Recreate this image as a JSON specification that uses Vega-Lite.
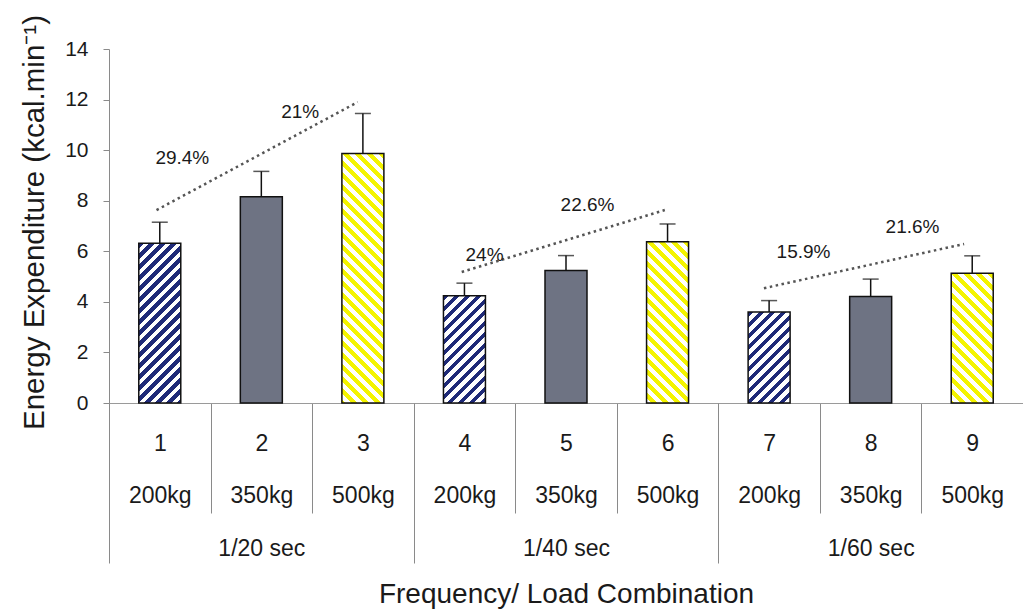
{
  "$schema": "https://vega.github.io/schema/vega-lite/v6.json",
  "width": 914,
  "height": 354,
  "autosize": "none",
  "padding": {"left": 109, "top": 49, "right": 0, "bottom": 206},
  "background": "#ffffff",
  "config": {
    "view": {"stroke": null},
    "font": "Liberation Sans",
    "axis": {"labelColor": "#1a1a1a", "titleColor": "#1a1a1a", "titleFontWeight": "normal", "labelFont": "Liberation Sans", "titleFont": "Liberation Sans"},
    "axisY": {
      "values": [0, 2, 4, 6, 8, 10, 12, 14], "grid": false,
      "tickSize": 6, "tickColor": "#8a8a8a", "domainColor": "#8a8a8a",
      "labelFontSize": 21, "labelPadding": 15,
      "titleFontSize": 29.5, "titleX": -66, "titleY": 173, "titleBaseline": "alphabetic"
    }
  },
  "datasets": {
    "bars": [
      {"case": "1 200kg", "n": 1, "load": "200kg", "freq": "1/20 sec", "ee": 6.32, "upper": 7.15},
      {"case": "2 350kg", "n": 2, "load": "350kg", "freq": "1/20 sec", "ee": 8.16, "upper": 9.16},
      {"case": "3 500kg", "n": 3, "load": "500kg", "freq": "1/20 sec", "ee": 9.87, "upper": 11.45},
      {"case": "4 200kg", "n": 4, "load": "200kg", "freq": "1/40 sec", "ee": 4.24, "upper": 4.74},
      {"case": "5 350kg", "n": 5, "load": "350kg", "freq": "1/40 sec", "ee": 5.24, "upper": 5.83},
      {"case": "6 500kg", "n": 6, "load": "500kg", "freq": "1/40 sec", "ee": 6.38, "upper": 7.08},
      {"case": "7 200kg", "n": 7, "load": "200kg", "freq": "1/60 sec", "ee": 3.60, "upper": 4.05},
      {"case": "8 350kg", "n": 8, "load": "350kg", "freq": "1/60 sec", "ee": 4.21, "upper": 4.90},
      {"case": "9 500kg", "n": 9, "load": "500kg", "freq": "1/60 sec", "ee": 5.13, "upper": 5.82}
    ],
    "trend": [
      {"grp": "1/20 sec", "pos": 0.468, "y": 7.63},
      {"grp": "1/20 sec", "pos": 2.449, "y": 11.9},
      {"grp": "1/40 sec", "pos": 3.473, "y": 5.18},
      {"grp": "1/40 sec", "pos": 5.473, "y": 7.63},
      {"grp": "1/60 sec", "pos": 6.449, "y": 4.54},
      {"grp": "1/60 sec", "pos": 8.420, "y": 6.29}
    ],
    "pct": [
      {"pos": 0.722, "y": 9.69, "label": "29.4%"},
      {"pos": 1.883, "y": 11.5, "label": "21%"},
      {"pos": 3.698, "y": 5.86, "label": "24%"},
      {"pos": 4.712, "y": 7.83, "label": "22.6%"},
      {"pos": 6.839, "y": 5.99, "label": "15.9%"},
      {"pos": 7.912, "y": 6.97, "label": "21.6%"}
    ]
  },
  "resolve": {"scale": {"x": "independent"}},
  "layer": [
    {
      "data": {"name": "bars"},
      "encoding": {
        "x": {
          "field": "case", "type": "nominal", "sort": null,
          "scale": {"type": "band", "paddingInner": 0, "paddingOuter": 0},
          "axis": {
            "orient": "bottom", "title": null, "labelAngle": 0,
            "labelExpr": "split(datum.label, ' ')",
            "labelFontSize": 23, "labelLineHeight": 52, "labelPadding": -81,
            "tickBand": "extent", "tickSize": 110, "tickColor": "#8a8a8a", "tickWidth": 1,
            "domainColor": "#9a9a9a", "domainWidth": 1
          }
        }
      },
      "layer": [
        {
          "mark": {"type": "bar", "stroke": "#111111", "strokeWidth": 1.5, "width": {"band": 0.4135}},
          "encoding": {
            "y": {
              "field": "ee", "type": "quantitative",
              "scale": {"domain": [0, 14], "nice": false},
              "title": "Energy Expenditure (kcal.min⁻¹)"
            },
            "fill": {
              "condition": [
                {"test": "datum.n === 1", "value": {"gradient": "linear", "x1": 0, "y1": 0, "x2": 0.3385, "y2": 1.2878, "stops": [
                  {"offset": 0, "color": "#1f2a78"}, {"offset": 0.025, "color": "#1f2a78"}, {"offset": 0.025, "color": "#fff"}, {"offset": 0.05, "color": "#fff"},
                  {"offset": 0.05, "color": "#1f2a78"}, {"offset": 0.075, "color": "#1f2a78"}, {"offset": 0.075, "color": "#fff"}, {"offset": 0.1, "color": "#fff"},
                  {"offset": 0.1, "color": "#1f2a78"}, {"offset": 0.125, "color": "#1f2a78"}, {"offset": 0.125, "color": "#fff"}, {"offset": 0.15, "color": "#fff"},
                  {"offset": 0.15, "color": "#1f2a78"}, {"offset": 0.175, "color": "#1f2a78"}, {"offset": 0.175, "color": "#fff"}, {"offset": 0.2, "color": "#fff"},
                  {"offset": 0.2, "color": "#1f2a78"}, {"offset": 0.225, "color": "#1f2a78"}, {"offset": 0.225, "color": "#fff"}, {"offset": 0.25, "color": "#fff"},
                  {"offset": 0.25, "color": "#1f2a78"}, {"offset": 0.275, "color": "#1f2a78"}, {"offset": 0.275, "color": "#fff"}, {"offset": 0.3, "color": "#fff"},
                  {"offset": 0.3, "color": "#1f2a78"}, {"offset": 0.325, "color": "#1f2a78"}, {"offset": 0.325, "color": "#fff"}, {"offset": 0.35, "color": "#fff"},
                  {"offset": 0.35, "color": "#1f2a78"}, {"offset": 0.375, "color": "#1f2a78"}, {"offset": 0.375, "color": "#fff"}, {"offset": 0.4, "color": "#fff"},
                  {"offset": 0.4, "color": "#1f2a78"}, {"offset": 0.425, "color": "#1f2a78"}, {"offset": 0.425, "color": "#fff"}, {"offset": 0.45, "color": "#fff"},
                  {"offset": 0.45, "color": "#1f2a78"}, {"offset": 0.475, "color": "#1f2a78"}, {"offset": 0.475, "color": "#fff"}, {"offset": 0.5, "color": "#fff"},
                  {"offset": 0.5, "color": "#1f2a78"}, {"offset": 0.525, "color": "#1f2a78"}, {"offset": 0.525, "color": "#fff"}, {"offset": 0.55, "color": "#fff"},
                  {"offset": 0.55, "color": "#1f2a78"}, {"offset": 0.575, "color": "#1f2a78"}, {"offset": 0.575, "color": "#fff"}, {"offset": 0.6, "color": "#fff"},
                  {"offset": 0.6, "color": "#1f2a78"}, {"offset": 0.625, "color": "#1f2a78"}, {"offset": 0.625, "color": "#fff"}, {"offset": 0.65, "color": "#fff"},
                  {"offset": 0.65, "color": "#1f2a78"}, {"offset": 0.675, "color": "#1f2a78"}, {"offset": 0.675, "color": "#fff"}, {"offset": 0.7, "color": "#fff"},
                  {"offset": 0.7, "color": "#1f2a78"}, {"offset": 0.725, "color": "#1f2a78"}, {"offset": 0.725, "color": "#fff"}, {"offset": 0.75, "color": "#fff"},
                  {"offset": 0.75, "color": "#1f2a78"}, {"offset": 0.775, "color": "#1f2a78"}, {"offset": 0.775, "color": "#fff"}, {"offset": 0.8, "color": "#fff"},
                  {"offset": 0.8, "color": "#1f2a78"}, {"offset": 0.825, "color": "#1f2a78"}, {"offset": 0.825, "color": "#fff"}, {"offset": 0.85, "color": "#fff"},
                  {"offset": 0.85, "color": "#1f2a78"}, {"offset": 0.875, "color": "#1f2a78"}, {"offset": 0.875, "color": "#fff"}, {"offset": 0.9, "color": "#fff"},
                  {"offset": 0.9, "color": "#1f2a78"}, {"offset": 0.925, "color": "#1f2a78"}, {"offset": 0.925, "color": "#fff"}, {"offset": 0.95, "color": "#fff"},
                  {"offset": 0.95, "color": "#1f2a78"}, {"offset": 0.975, "color": "#1f2a78"}, {"offset": 0.975, "color": "#fff"}, {"offset": 1, "color": "#fff"}
                ]}},
                {"test": "datum.n === 4", "value": {"gradient": "linear", "x1": 0, "y1": 0, "x2": 0.6970, "y2": 1.7791, "stops": [
                  {"offset": 0, "color": "#1f2a78"}, {"offset": 0.025, "color": "#1f2a78"}, {"offset": 0.025, "color": "#fff"}, {"offset": 0.05, "color": "#fff"},
                  {"offset": 0.05, "color": "#1f2a78"}, {"offset": 0.075, "color": "#1f2a78"}, {"offset": 0.075, "color": "#fff"}, {"offset": 0.1, "color": "#fff"},
                  {"offset": 0.1, "color": "#1f2a78"}, {"offset": 0.125, "color": "#1f2a78"}, {"offset": 0.125, "color": "#fff"}, {"offset": 0.15, "color": "#fff"},
                  {"offset": 0.15, "color": "#1f2a78"}, {"offset": 0.175, "color": "#1f2a78"}, {"offset": 0.175, "color": "#fff"}, {"offset": 0.2, "color": "#fff"},
                  {"offset": 0.2, "color": "#1f2a78"}, {"offset": 0.225, "color": "#1f2a78"}, {"offset": 0.225, "color": "#fff"}, {"offset": 0.25, "color": "#fff"},
                  {"offset": 0.25, "color": "#1f2a78"}, {"offset": 0.275, "color": "#1f2a78"}, {"offset": 0.275, "color": "#fff"}, {"offset": 0.3, "color": "#fff"},
                  {"offset": 0.3, "color": "#1f2a78"}, {"offset": 0.325, "color": "#1f2a78"}, {"offset": 0.325, "color": "#fff"}, {"offset": 0.35, "color": "#fff"},
                  {"offset": 0.35, "color": "#1f2a78"}, {"offset": 0.375, "color": "#1f2a78"}, {"offset": 0.375, "color": "#fff"}, {"offset": 0.4, "color": "#fff"},
                  {"offset": 0.4, "color": "#1f2a78"}, {"offset": 0.425, "color": "#1f2a78"}, {"offset": 0.425, "color": "#fff"}, {"offset": 0.45, "color": "#fff"},
                  {"offset": 0.45, "color": "#1f2a78"}, {"offset": 0.475, "color": "#1f2a78"}, {"offset": 0.475, "color": "#fff"}, {"offset": 0.5, "color": "#fff"},
                  {"offset": 0.5, "color": "#1f2a78"}, {"offset": 0.525, "color": "#1f2a78"}, {"offset": 0.525, "color": "#fff"}, {"offset": 0.55, "color": "#fff"},
                  {"offset": 0.55, "color": "#1f2a78"}, {"offset": 0.575, "color": "#1f2a78"}, {"offset": 0.575, "color": "#fff"}, {"offset": 0.6, "color": "#fff"},
                  {"offset": 0.6, "color": "#1f2a78"}, {"offset": 0.625, "color": "#1f2a78"}, {"offset": 0.625, "color": "#fff"}, {"offset": 0.65, "color": "#fff"},
                  {"offset": 0.65, "color": "#1f2a78"}, {"offset": 0.675, "color": "#1f2a78"}, {"offset": 0.675, "color": "#fff"}, {"offset": 0.7, "color": "#fff"}
                ]}},
                {"test": "datum.n === 7", "value": {"gradient": "linear", "x1": 0, "y1": 0, "x2": 0.9194, "y2": 1.9927, "stops": [
                  {"offset": 0, "color": "#1f2a78"}, {"offset": 0.025, "color": "#1f2a78"}, {"offset": 0.025, "color": "#fff"}, {"offset": 0.05, "color": "#fff"},
                  {"offset": 0.05, "color": "#1f2a78"}, {"offset": 0.075, "color": "#1f2a78"}, {"offset": 0.075, "color": "#fff"}, {"offset": 0.1, "color": "#fff"},
                  {"offset": 0.1, "color": "#1f2a78"}, {"offset": 0.125, "color": "#1f2a78"}, {"offset": 0.125, "color": "#fff"}, {"offset": 0.15, "color": "#fff"},
                  {"offset": 0.15, "color": "#1f2a78"}, {"offset": 0.175, "color": "#1f2a78"}, {"offset": 0.175, "color": "#fff"}, {"offset": 0.2, "color": "#fff"},
                  {"offset": 0.2, "color": "#1f2a78"}, {"offset": 0.225, "color": "#1f2a78"}, {"offset": 0.225, "color": "#fff"}, {"offset": 0.25, "color": "#fff"},
                  {"offset": 0.25, "color": "#1f2a78"}, {"offset": 0.275, "color": "#1f2a78"}, {"offset": 0.275, "color": "#fff"}, {"offset": 0.3, "color": "#fff"},
                  {"offset": 0.3, "color": "#1f2a78"}, {"offset": 0.325, "color": "#1f2a78"}, {"offset": 0.325, "color": "#fff"}, {"offset": 0.35, "color": "#fff"},
                  {"offset": 0.35, "color": "#1f2a78"}, {"offset": 0.375, "color": "#1f2a78"}, {"offset": 0.375, "color": "#fff"}, {"offset": 0.4, "color": "#fff"},
                  {"offset": 0.4, "color": "#1f2a78"}, {"offset": 0.425, "color": "#1f2a78"}, {"offset": 0.425, "color": "#fff"}, {"offset": 0.45, "color": "#fff"},
                  {"offset": 0.45, "color": "#1f2a78"}, {"offset": 0.475, "color": "#1f2a78"}, {"offset": 0.475, "color": "#fff"}, {"offset": 0.5, "color": "#fff"},
                  {"offset": 0.5, "color": "#1f2a78"}, {"offset": 0.525, "color": "#1f2a78"}, {"offset": 0.525, "color": "#fff"}, {"offset": 0.55, "color": "#fff"},
                  {"offset": 0.55, "color": "#1f2a78"}, {"offset": 0.575, "color": "#1f2a78"}, {"offset": 0.575, "color": "#fff"}, {"offset": 0.6, "color": "#fff"},
                  {"offset": 0.6, "color": "#1f2a78"}, {"offset": 0.625, "color": "#1f2a78"}, {"offset": 0.625, "color": "#fff"}, {"offset": 0.65, "color": "#fff"}
                ]}},
                {"test": "datum.n === 3", "value": {"gradient": "linear", "x1": 1, "y1": 0, "x2": 0.80327, "y2": 1.16896, "stops": [
                  {"offset": 0, "color": "#f4f400"}, {"offset": 0.02, "color": "#f4f400"}, {"offset": 0.02, "color": "#fff"}, {"offset": 0.04, "color": "#fff"},
                  {"offset": 0.04, "color": "#f4f400"}, {"offset": 0.06, "color": "#f4f400"}, {"offset": 0.06, "color": "#fff"}, {"offset": 0.08, "color": "#fff"},
                  {"offset": 0.08, "color": "#f4f400"}, {"offset": 0.1, "color": "#f4f400"}, {"offset": 0.1, "color": "#fff"}, {"offset": 0.12, "color": "#fff"},
                  {"offset": 0.12, "color": "#f4f400"}, {"offset": 0.14, "color": "#f4f400"}, {"offset": 0.14, "color": "#fff"}, {"offset": 0.16, "color": "#fff"},
                  {"offset": 0.16, "color": "#f4f400"}, {"offset": 0.18, "color": "#f4f400"}, {"offset": 0.18, "color": "#fff"}, {"offset": 0.2, "color": "#fff"},
                  {"offset": 0.2, "color": "#f4f400"}, {"offset": 0.22, "color": "#f4f400"}, {"offset": 0.22, "color": "#fff"}, {"offset": 0.24, "color": "#fff"},
                  {"offset": 0.24, "color": "#f4f400"}, {"offset": 0.26, "color": "#f4f400"}, {"offset": 0.26, "color": "#fff"}, {"offset": 0.28, "color": "#fff"},
                  {"offset": 0.28, "color": "#f4f400"}, {"offset": 0.3, "color": "#f4f400"}, {"offset": 0.3, "color": "#fff"}, {"offset": 0.32, "color": "#fff"},
                  {"offset": 0.32, "color": "#f4f400"}, {"offset": 0.34, "color": "#f4f400"}, {"offset": 0.34, "color": "#fff"}, {"offset": 0.36, "color": "#fff"},
                  {"offset": 0.36, "color": "#f4f400"}, {"offset": 0.38, "color": "#f4f400"}, {"offset": 0.38, "color": "#fff"}, {"offset": 0.4, "color": "#fff"},
                  {"offset": 0.4, "color": "#f4f400"}, {"offset": 0.42, "color": "#f4f400"}, {"offset": 0.42, "color": "#fff"}, {"offset": 0.44, "color": "#fff"},
                  {"offset": 0.44, "color": "#f4f400"}, {"offset": 0.46, "color": "#f4f400"}, {"offset": 0.46, "color": "#fff"}, {"offset": 0.48, "color": "#fff"},
                  {"offset": 0.48, "color": "#f4f400"}, {"offset": 0.5, "color": "#f4f400"}, {"offset": 0.5, "color": "#fff"}, {"offset": 0.52, "color": "#fff"},
                  {"offset": 0.52, "color": "#f4f400"}, {"offset": 0.54, "color": "#f4f400"}, {"offset": 0.54, "color": "#fff"}, {"offset": 0.56, "color": "#fff"},
                  {"offset": 0.56, "color": "#f4f400"}, {"offset": 0.58, "color": "#f4f400"}, {"offset": 0.58, "color": "#fff"}, {"offset": 0.6, "color": "#fff"},
                  {"offset": 0.6, "color": "#f4f400"}, {"offset": 0.62, "color": "#f4f400"}, {"offset": 0.62, "color": "#fff"}, {"offset": 0.64, "color": "#fff"},
                  {"offset": 0.64, "color": "#f4f400"}, {"offset": 0.66, "color": "#f4f400"}, {"offset": 0.66, "color": "#fff"}, {"offset": 0.68, "color": "#fff"},
                  {"offset": 0.68, "color": "#f4f400"}, {"offset": 0.7, "color": "#f4f400"}, {"offset": 0.7, "color": "#fff"}, {"offset": 0.72, "color": "#fff"},
                  {"offset": 0.72, "color": "#f4f400"}, {"offset": 0.74, "color": "#f4f400"}, {"offset": 0.74, "color": "#fff"}, {"offset": 0.76, "color": "#fff"},
                  {"offset": 0.76, "color": "#f4f400"}, {"offset": 0.78, "color": "#f4f400"}, {"offset": 0.78, "color": "#fff"}, {"offset": 0.8, "color": "#fff"},
                  {"offset": 0.8, "color": "#f4f400"}, {"offset": 0.82, "color": "#f4f400"}, {"offset": 0.82, "color": "#fff"}, {"offset": 0.84, "color": "#fff"},
                  {"offset": 0.84, "color": "#f4f400"}, {"offset": 0.86, "color": "#f4f400"}, {"offset": 0.86, "color": "#fff"}, {"offset": 0.88, "color": "#fff"},
                  {"offset": 0.88, "color": "#f4f400"}, {"offset": 0.9, "color": "#f4f400"}, {"offset": 0.9, "color": "#fff"}, {"offset": 0.92, "color": "#fff"},
                  {"offset": 0.92, "color": "#f4f400"}, {"offset": 0.94, "color": "#f4f400"}, {"offset": 0.94, "color": "#fff"}, {"offset": 0.96, "color": "#fff"},
                  {"offset": 0.96, "color": "#f4f400"}, {"offset": 0.98, "color": "#f4f400"}, {"offset": 0.98, "color": "#fff"}, {"offset": 1, "color": "#fff"}
                ]}},
                {"test": "datum.n === 6", "value": {"gradient": "linear", "x1": 1, "y1": 0, "x2": 0.54657, "y2": 1.74161, "stops": [
                  {"offset": 0, "color": "#f4f400"}, {"offset": 0.02, "color": "#f4f400"}, {"offset": 0.02, "color": "#fff"}, {"offset": 0.04, "color": "#fff"},
                  {"offset": 0.04, "color": "#f4f400"}, {"offset": 0.06, "color": "#f4f400"}, {"offset": 0.06, "color": "#fff"}, {"offset": 0.08, "color": "#fff"},
                  {"offset": 0.08, "color": "#f4f400"}, {"offset": 0.1, "color": "#f4f400"}, {"offset": 0.1, "color": "#fff"}, {"offset": 0.12, "color": "#fff"},
                  {"offset": 0.12, "color": "#f4f400"}, {"offset": 0.14, "color": "#f4f400"}, {"offset": 0.14, "color": "#fff"}, {"offset": 0.16, "color": "#fff"},
                  {"offset": 0.16, "color": "#f4f400"}, {"offset": 0.18, "color": "#f4f400"}, {"offset": 0.18, "color": "#fff"}, {"offset": 0.2, "color": "#fff"},
                  {"offset": 0.2, "color": "#f4f400"}, {"offset": 0.22, "color": "#f4f400"}, {"offset": 0.22, "color": "#fff"}, {"offset": 0.24, "color": "#fff"},
                  {"offset": 0.24, "color": "#f4f400"}, {"offset": 0.26, "color": "#f4f400"}, {"offset": 0.26, "color": "#fff"}, {"offset": 0.28, "color": "#fff"},
                  {"offset": 0.28, "color": "#f4f400"}, {"offset": 0.3, "color": "#f4f400"}, {"offset": 0.3, "color": "#fff"}, {"offset": 0.32, "color": "#fff"},
                  {"offset": 0.32, "color": "#f4f400"}, {"offset": 0.34, "color": "#f4f400"}, {"offset": 0.34, "color": "#fff"}, {"offset": 0.36, "color": "#fff"},
                  {"offset": 0.36, "color": "#f4f400"}, {"offset": 0.38, "color": "#f4f400"}, {"offset": 0.38, "color": "#fff"}, {"offset": 0.4, "color": "#fff"},
                  {"offset": 0.4, "color": "#f4f400"}, {"offset": 0.42, "color": "#f4f400"}, {"offset": 0.42, "color": "#fff"}, {"offset": 0.44, "color": "#fff"},
                  {"offset": 0.44, "color": "#f4f400"}, {"offset": 0.46, "color": "#f4f400"}, {"offset": 0.46, "color": "#fff"}, {"offset": 0.48, "color": "#fff"},
                  {"offset": 0.48, "color": "#f4f400"}, {"offset": 0.5, "color": "#f4f400"}, {"offset": 0.5, "color": "#fff"}, {"offset": 0.52, "color": "#fff"},
                  {"offset": 0.52, "color": "#f4f400"}, {"offset": 0.54, "color": "#f4f400"}, {"offset": 0.54, "color": "#fff"}, {"offset": 0.56, "color": "#fff"},
                  {"offset": 0.56, "color": "#f4f400"}, {"offset": 0.58, "color": "#f4f400"}, {"offset": 0.58, "color": "#fff"}, {"offset": 0.6, "color": "#fff"},
                  {"offset": 0.6, "color": "#f4f400"}, {"offset": 0.62, "color": "#f4f400"}, {"offset": 0.62, "color": "#fff"}, {"offset": 0.64, "color": "#fff"},
                  {"offset": 0.64, "color": "#f4f400"}, {"offset": 0.66, "color": "#f4f400"}, {"offset": 0.66, "color": "#fff"}, {"offset": 0.68, "color": "#fff"}
                ]}},
                {"test": "datum.n === 9", "value": {"gradient": "linear", "x1": 1, "y1": 0, "x2": 0.32225, "y2": 2.09332, "stops": [
                  {"offset": 0, "color": "#f4f400"}, {"offset": 0.02, "color": "#f4f400"}, {"offset": 0.02, "color": "#fff"}, {"offset": 0.04, "color": "#fff"},
                  {"offset": 0.04, "color": "#f4f400"}, {"offset": 0.06, "color": "#f4f400"}, {"offset": 0.06, "color": "#fff"}, {"offset": 0.08, "color": "#fff"},
                  {"offset": 0.08, "color": "#f4f400"}, {"offset": 0.1, "color": "#f4f400"}, {"offset": 0.1, "color": "#fff"}, {"offset": 0.12, "color": "#fff"},
                  {"offset": 0.12, "color": "#f4f400"}, {"offset": 0.14, "color": "#f4f400"}, {"offset": 0.14, "color": "#fff"}, {"offset": 0.16, "color": "#fff"},
                  {"offset": 0.16, "color": "#f4f400"}, {"offset": 0.18, "color": "#f4f400"}, {"offset": 0.18, "color": "#fff"}, {"offset": 0.2, "color": "#fff"},
                  {"offset": 0.2, "color": "#f4f400"}, {"offset": 0.22, "color": "#f4f400"}, {"offset": 0.22, "color": "#fff"}, {"offset": 0.24, "color": "#fff"},
                  {"offset": 0.24, "color": "#f4f400"}, {"offset": 0.26, "color": "#f4f400"}, {"offset": 0.26, "color": "#fff"}, {"offset": 0.28, "color": "#fff"},
                  {"offset": 0.28, "color": "#f4f400"}, {"offset": 0.3, "color": "#f4f400"}, {"offset": 0.3, "color": "#fff"}, {"offset": 0.32, "color": "#fff"},
                  {"offset": 0.32, "color": "#f4f400"}, {"offset": 0.34, "color": "#f4f400"}, {"offset": 0.34, "color": "#fff"}, {"offset": 0.36, "color": "#fff"},
                  {"offset": 0.36, "color": "#f4f400"}, {"offset": 0.38, "color": "#f4f400"}, {"offset": 0.38, "color": "#fff"}, {"offset": 0.4, "color": "#fff"},
                  {"offset": 0.4, "color": "#f4f400"}, {"offset": 0.42, "color": "#f4f400"}, {"offset": 0.42, "color": "#fff"}, {"offset": 0.44, "color": "#fff"},
                  {"offset": 0.44, "color": "#f4f400"}, {"offset": 0.46, "color": "#f4f400"}, {"offset": 0.46, "color": "#fff"}, {"offset": 0.48, "color": "#fff"},
                  {"offset": 0.48, "color": "#f4f400"}, {"offset": 0.5, "color": "#f4f400"}, {"offset": 0.5, "color": "#fff"}, {"offset": 0.52, "color": "#fff"},
                  {"offset": 0.52, "color": "#f4f400"}, {"offset": 0.54, "color": "#f4f400"}, {"offset": 0.54, "color": "#fff"}, {"offset": 0.56, "color": "#fff"},
                  {"offset": 0.56, "color": "#f4f400"}, {"offset": 0.58, "color": "#f4f400"}, {"offset": 0.58, "color": "#fff"}, {"offset": 0.6, "color": "#fff"}
                ]}}
              ],
              "value": "#6e7383"
            }
          }
        },
        {
          "mark": {"type": "rule", "color": "#111111", "strokeWidth": 1.5},
          "encoding": {
            "y": {"field": "ee", "type": "quantitative"},
            "y2": {"field": "upper"}
          }
        },
        {
          "mark": {"type": "tick", "color": "#111111", "thickness": 1.5, "size": 16},
          "encoding": {
            "y": {"field": "upper", "type": "quantitative"}
          }
        }
      ]
    },
    {
      "data": {"name": "bars"},
      "mark": {"type": "rule", "opacity": 0},
      "encoding": {
        "x": {
          "field": "freq", "type": "nominal", "sort": null,
          "scale": {"type": "band", "paddingInner": 0, "paddingOuter": 0},
          "axis": {
            "orient": "bottom", "labelAngle": 0, "domain": false,
            "labelFontSize": 23, "labelPadding": -26,
            "tickBand": "extent", "tickSize": 160, "tickColor": "#8a8a8a", "tickWidth": 1,
            "title": "Frequency/ Load Combination", "titleFontSize": 28,
            "titleY": 199, "titleBaseline": "alphabetic"
          }
        }
      }
    },
    {
      "data": {"name": "trend"},
      "mark": {"type": "line", "color": "#555555", "strokeWidth": 2.5, "strokeDash": [2.5, 3.5]},
      "encoding": {
        "x": {"field": "pos", "type": "quantitative", "scale": {"domain": [0, 9], "nice": false, "zero": false}, "axis": null},
        "y": {"field": "y", "type": "quantitative"},
        "detail": {"field": "grp"}
      }
    },
    {
      "data": {"name": "pct"},
      "mark": {"type": "text", "fontSize": 19, "color": "#1a1a1a", "align": "center", "baseline": "middle"},
      "encoding": {
        "x": {"field": "pos", "type": "quantitative", "scale": {"domain": [0, 9], "nice": false, "zero": false}, "axis": null},
        "y": {"field": "y", "type": "quantitative"},
        "text": {"field": "label"}
      }
    }
  ]
}
